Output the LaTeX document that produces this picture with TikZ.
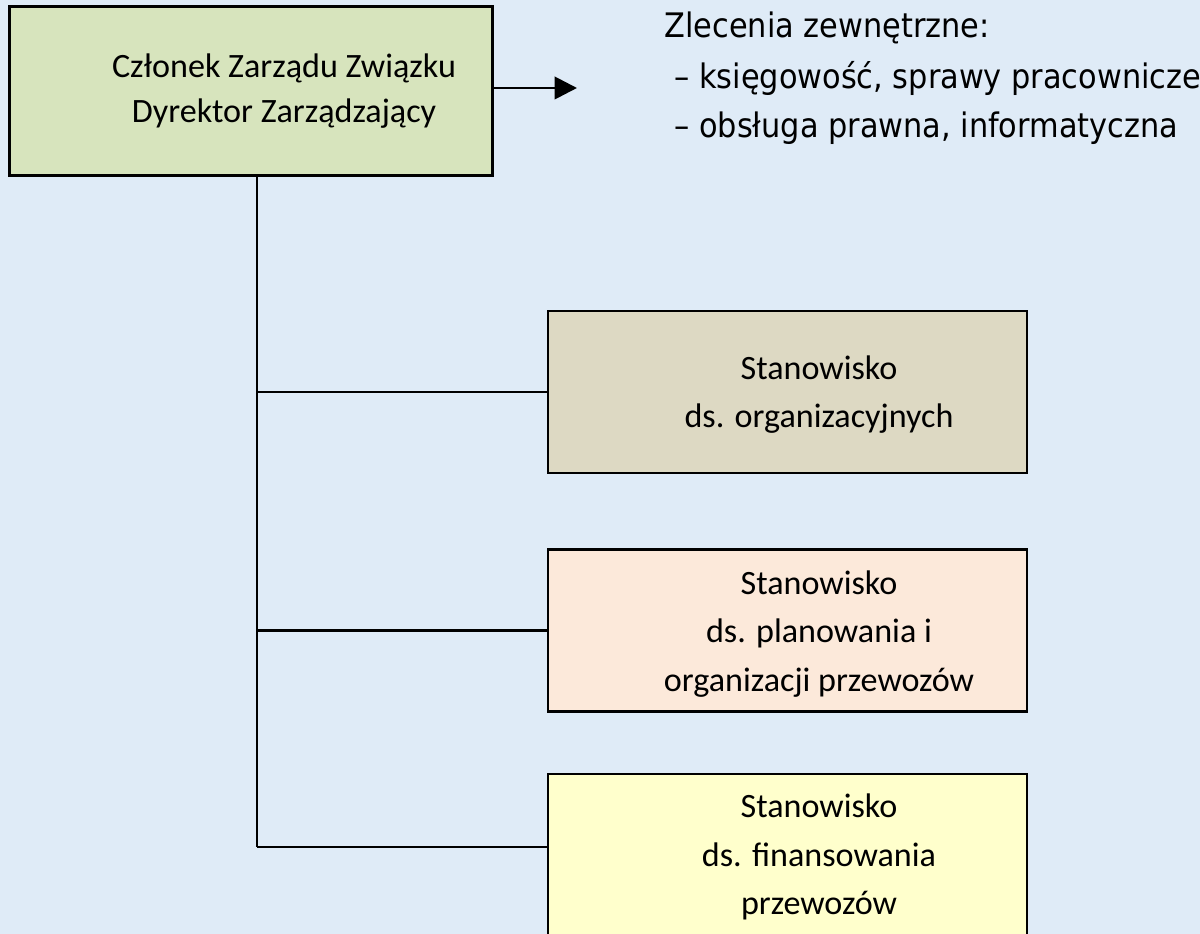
\documentclass[tikz,border=0pt]{standalone}
\usepackage{fontspec}
\setmainfont{Carlito}
\newfontfamily\extfont{DejaVu Sans Condensed}
\usepackage{tikz}
\usetikzlibrary{arrows.meta,positioning}

\definecolor{bgblue}{HTML}{DFEBF7}
\definecolor{bossgreen}{HTML}{D7E4BD}
\definecolor{orgtan}{HTML}{DDD9C3}
\definecolor{planpink}{HTML}{FCE9DA}
\definecolor{finyellow}{HTML}{FFFFCC}

\begin{document}
\begin{tikzpicture}[x=0.01cm,y=-0.01cm,
	boss/.style={draw=black, line width=0.85pt, fill=bossgreen, minimum width=4.82cm, minimum height=1.68cm},
	post/.style={draw=black, line width=0.6pt, minimum width=4.79cm, minimum height=1.62cm},
	boxtext/.style={align=center, font=\fontsize{9.7}{13.7}\selectfont},
	ext/.style={anchor=west, font=\extfont\fontsize{9.6}{12}\selectfont},
	conn/.style={line width=0.6pt}]
	  \fill[bgblue] (0,0) rectangle (1200,934);
	  \useasboundingbox (0,0) rectangle (1200,934);
	  \clip (0,0) rectangle (1200,934);

	  % boxes
	  \node[boss] (zarzad) at (251,91) {};
	  \node[post, fill=orgtan] (org) at (787.5,392) {};
	  \node[post, fill=planpink] (plan) at (787.5,630.5) {};
	  \node[post, fill=finyellow] (fin) at (787.5,855) {};

	  % texts in boxes
	  \node[boxtext, font=\fontsize{9.7}{12.8}\selectfont] (zarzadtxt) at (284,91) {Członek Zarządu Związku\\Dyrektor Zarządzający};
	  \node[boxtext] (orgtxt) at (819,395) {Stanowisko\\ds. organizacyjnych};
	  \node[boxtext] (plantxt) at (819,634) {Stanowisko\\ds. planowania i\\organizacji przewozów};
	  \node[boxtext] (fintxt) at (819,857) {Stanowisko\\ds. finansowania\\przewozów};

	  % outside services
	  \node[ext] (zlec) at (652,28) {Zlecenia zewnętrzne:};
	  \node[ext] (ksieg) at (662,78) {– księgowość, sprawy pracownicze};
	  \node[ext] (prawo) at (662,128) {– obsługa prawna, informatyczna};

	  % connectors
	  \coordinate (arrowtip) at (577,88);
	  \coordinate (trunk) at (257,847);
	  \draw[conn, line width=0.8pt, -{Triangle[length=6.4pt,width=6.4pt]}] (zarzad.east |- arrowtip) -- (arrowtip);
	  \draw[conn] (zarzad.south -| trunk) -- (trunk);
	  \draw[conn] (trunk |- org.west) -- (org.west);
	  \draw[conn] (trunk |- plan.west) -- (plan.west);
	  \draw[conn] (trunk) -- (trunk -| fin.west);
	\end{tikzpicture}
\end{document}
